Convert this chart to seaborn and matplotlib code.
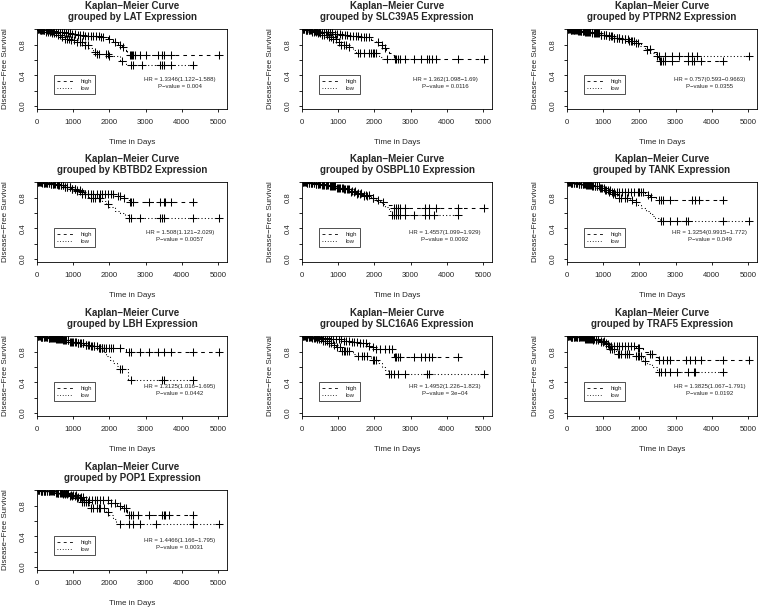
import numpy as np
import matplotlib
matplotlib.use("Agg")
import matplotlib.pyplot as plt
from matplotlib.lines import Line2D
import seaborn as sns

genes = ["LAT", "SLC39A5", "PTPRN2", "KBTBD2", "OSBPL10",
         "TANK", "LBH", "SLC16A6", "TRAF5", "POP1"]
hr_labels = ["HR = 1.3346(1.122\u22121.588)", "HR = 1.362(1.098\u22121.69)",
             "HR = 0.757(0.593\u22120.9663)", "HR = 1.508(1.121\u22122.029)",
             "HR = 1.4557(1.099\u22121.929)", "HR = 1.3254(0.9915\u22121.772)",
             "HR = 1.3125(1.016\u22121.695)", "HR = 1.4952(1.226\u22121.823)",
             "HR = 1.3825(1.067\u22121.791)", "HR = 1.4466(1.166\u22121.795)"]
p_labels = ["P\u2212value = 0.004", "P\u2212value = 0.0116", "P\u2212value = 0.0355",
            "P\u2212value = 0.0057", "P\u2212value = 0.0092", "P\u2212value = 0.049",
            "P\u2212value = 0.0442", "P\u2212value = 3e\u221204", "P\u2212value = 0.0192",
            "P\u2212value = 0.0031"]

# event times / survival after each event (high expression group)
high_t = {
    "LAT": [80, 200, 350, 500, 650, 800, 950, 1100, 1300, 1500, 1750, 1950, 2100, 2250, 2350, 2450, 2500],
    "SLC39A5": [100, 250, 450, 650, 850, 1050, 1300, 1600, 1900, 2050, 2150, 2250, 2320, 2400, 2480, 2540],
    "PTPRN2": [100, 300, 500, 700, 900, 1100, 1300, 1500, 1700, 1900, 2050, 2200, 2350, 2480, 2550],
    "KBTBD2": [150, 350, 550, 750, 950, 1100, 1200, 1300, 2200, 2350, 2450, 2560],
    "OSBPL10": [150, 350, 550, 750, 950, 1150, 1350, 1500, 1700, 1900, 2050, 2200, 2350, 2480],
    "TANK": [100, 300, 500, 700, 900, 1050, 1150, 2150, 2300, 2450, 2530],
    "LBH": [100, 300, 500, 700, 900, 1100, 1300, 1500, 1650, 2450],
    "SLC16A6": [100, 300, 500, 700, 900, 1100, 1300, 1600, 1800, 1900, 2000, 2550],
    "TRAF5": [100, 300, 500, 700, 900, 1050, 1150, 1900, 2100, 2250, 2400, 2510],
    "POP1": [100, 300, 500, 700, 900, 1100, 1300, 2000, 2200, 2350, 2500],
}
high_s = {
    "LAT": [0.995, 0.99, 0.98, 0.97, 0.96, 0.95, 0.94, 0.93, 0.92, 0.91, 0.90, 0.87, 0.83, 0.80, 0.77, 0.72, 0.66],
    "SLC39A5": [0.99, 0.98, 0.97, 0.96, 0.94, 0.93, 0.92, 0.90, 0.86, 0.83, 0.79, 0.76, 0.73, 0.69, 0.66, 0.61],
    "PTPRN2": [0.99, 0.98, 0.96, 0.95, 0.93, 0.91, 0.89, 0.87, 0.85, 0.82, 0.78, 0.74, 0.70, 0.64, 0.59],
    "KBTBD2": [0.99, 0.98, 0.96, 0.94, 0.92, 0.90, 0.88, 0.85, 0.82, 0.79, 0.77, 0.74],
    "OSBPL10": [0.99, 0.98, 0.97, 0.95, 0.93, 0.91, 0.89, 0.86, 0.83, 0.80, 0.77, 0.74, 0.71, 0.67],
    "TANK": [0.995, 0.98, 0.97, 0.95, 0.93, 0.90, 0.87, 0.84, 0.81, 0.79, 0.77],
    "LBH": [0.995, 0.98, 0.97, 0.95, 0.93, 0.91, 0.89, 0.87, 0.85, 0.80],
    "SLC16A6": [0.995, 0.99, 0.98, 0.97, 0.96, 0.94, 0.93, 0.91, 0.88, 0.86, 0.84, 0.73],
    "TRAF5": [0.995, 0.99, 0.97, 0.96, 0.94, 0.91, 0.88, 0.85, 0.80, 0.77, 0.73, 0.69],
    "POP1": [0.995, 0.99, 0.97, 0.96, 0.94, 0.92, 0.88, 0.84, 0.80, 0.77, 0.68],
}
high_cens = {
    "LAT": [20, 50, 80, 120, 160, 200, 250, 290, 340, 380, 430, 480, 530, 580, 640, 690, 750, 800, 860, 920, 980,
            1050, 1120, 1190, 1260, 1330, 1400, 1480, 1560, 1640, 1700, 1760, 1820, 2000, 2150, 2300, 2380,
            2560, 2590, 2620, 2660, 2720, 2850, 3000, 3350, 3450, 3500, 3700, 5030],
    "SLC39A5": [30, 60, 100, 140, 180, 230, 270, 320, 370, 410, 460, 510, 560, 610, 670, 720, 780, 840, 900, 970,
                1040, 1110, 1180, 1250, 1330, 1400, 1480, 1550, 1630, 1700, 1780, 1850, 2100, 2200, 2300,
                2560, 2600, 2650, 2700, 2850, 3100, 3300, 3450, 3500, 3600, 3700, 4300, 5030],
    "PTPRN2": [20, 60, 100, 140, 190, 230, 280, 330, 380, 430, 480, 530, 590, 640, 700, 760, 820, 880, 950, 1020,
               1090, 1160, 1230, 1300, 1380, 1450, 1530, 1600, 1680, 1760, 1850, 1950, 2300,
               2560, 2600, 2650, 2700, 2900, 3350, 3450, 3500, 3700, 4300],
    "KBTBD2": [30, 70, 110, 150, 200, 240, 290, 340, 390, 440, 490, 540, 600, 650, 710, 770, 830, 900, 970, 1040,
               1110, 1180, 1250, 1320, 1400, 1480, 1560, 1650, 1730, 1800, 1880, 1950, 2050, 2100,
               2250, 2300, 2400, 2580, 2600, 2650, 3100, 3400, 3500, 3550, 3700, 4300],
    "OSBPL10": [20, 60, 100, 150, 190, 240, 280, 330, 380, 430, 480, 540, 590, 650, 700, 760, 830, 890, 960, 1030,
                1100, 1170, 1240, 1310, 1390, 1460, 1540, 1620, 1700, 1780, 1850, 1950, 2100, 2250,
                2550, 2600, 2650, 2700, 2850, 3400, 3500, 3700, 4300, 5030],
    "TANK": [30, 70, 110, 150, 200, 240, 290, 330, 380, 430, 480, 530, 590, 640, 700, 760, 820, 890, 950, 1020,
             1090, 1160, 1230, 1300, 1380, 1450, 1530, 1600, 1680, 1760, 1850, 1950, 2000, 2050, 2100,
             2250, 2330, 2550, 2600, 2650, 2850, 3450, 3550, 3650, 4300],
    "LBH": [20, 60, 100, 140, 180, 230, 270, 320, 370, 420, 470, 520, 570, 630, 680, 740, 800, 860, 930, 1000,
            1070, 1140, 1210, 1280, 1360, 1430, 1510, 1580, 1700, 1750, 1800, 1850, 1900, 2000, 2050, 2100,
            2300, 2550, 2600, 2850, 3100, 3350, 3500, 3700, 4300, 5030],
    "SLC16A6": [30, 70, 110, 150, 190, 240, 280, 330, 380, 430, 480, 530, 580, 640, 690, 750, 810, 870, 940, 1010,
                1080, 1150, 1220, 1290, 1370, 1440, 1520, 1600, 1680, 1760, 1850, 1950, 2050, 2150, 2300, 2400,
                2500, 2580, 2600, 2650, 2700, 3100, 3300, 3400, 3500, 3600, 4300],
    "TRAF5": [20, 60, 100, 140, 190, 230, 280, 320, 370, 420, 470, 520, 580, 630, 690, 750, 810, 870, 940, 1010,
              1080, 1150, 1220, 1290, 1370, 1440, 1520, 1600, 1680, 1760, 1850, 1950, 2000, 2300, 2350,
              2550, 2650, 2750, 2850, 3300, 3400, 3550, 3700, 4300, 5030],
    "POP1": [30, 60, 100, 140, 190, 230, 280, 320, 370, 420, 470, 520, 580, 630, 690, 740, 800, 870, 930, 1000,
             1070, 1140, 1210, 1280, 1360, 1430, 1510, 1590, 1670, 1750, 1830, 1950, 2050, 2150, 2300, 2400, 2450,
             2550, 2600, 2650, 2800, 3100, 3450, 3500, 3550, 3650, 4300],
}

# low expression group
low_t = {
    "LAT": [100, 250, 400, 550, 650, 750, 900, 1100, 1300, 1420, 1550, 1650, 2000, 2300, 2450],
    "SLC39A5": [100, 250, 400, 550, 700, 850, 950, 1050, 1300, 1400, 1500, 2120, 2200],
    "PTPRN2": [100, 300, 500, 700, 900, 1100, 1300, 1500, 1700, 1850, 2000, 2150, 2300, 2450],
    "KBTBD2": [150, 350, 550, 750, 950, 1100, 1250, 1450, 1800, 1900, 2000, 2150, 2300, 2420, 2520],
    "OSBPL10": [150, 350, 550, 750, 950, 1150, 1350, 1500, 1700, 1900, 2050, 2200, 2300, 2400, 2480],
    "TANK": [100, 300, 500, 700, 900, 1050, 1200, 1400, 1750, 1850, 1950, 2050, 2180, 2280, 2370, 2430, 2560],
    "LBH": [100, 300, 500, 700, 900, 1100, 1300, 1500, 1700, 1820, 1920, 2020, 2110, 2200, 2280, 2520],
    "SLC16A6": [100, 250, 400, 550, 700, 850, 950, 1050, 1400, 1500, 1900, 2100, 2200, 2300, 2370],
    "TRAF5": [100, 300, 500, 700, 900, 1050, 1150, 1350, 1850, 2100, 2200, 2350, 2500],
    "POP1": [100, 300, 500, 700, 900, 1100, 1250, 1450, 1900, 2000, 2100, 2180],
}
low_s = {
    "LAT": [0.99, 0.97, 0.95, 0.93, 0.90, 0.88, 0.86, 0.83, 0.80, 0.76, 0.71, 0.68, 0.65, 0.59, 0.53],
    "SLC39A5": [0.99, 0.97, 0.95, 0.93, 0.90, 0.87, 0.84, 0.80, 0.77, 0.73, 0.69, 0.64, 0.61],
    "PTPRN2": [0.99, 0.98, 0.97, 0.95, 0.93, 0.91, 0.89, 0.88, 0.85, 0.82, 0.78, 0.73, 0.69, 0.655],
    "KBTBD2": [0.99, 0.98, 0.96, 0.94, 0.92, 0.89, 0.85, 0.80, 0.76, 0.72, 0.68, 0.63, 0.60, 0.58, 0.53],
    "OSBPL10": [0.99, 0.98, 0.96, 0.95, 0.93, 0.91, 0.88, 0.85, 0.82, 0.79, 0.76, 0.72, 0.68, 0.63, 0.58],
    "TANK": [0.995, 0.98, 0.97, 0.95, 0.93, 0.90, 0.85, 0.80, 0.77, 0.74, 0.71, 0.67, 0.63, 0.59, 0.56, 0.53, 0.49],
    "LBH": [0.995, 0.98, 0.97, 0.95, 0.93, 0.91, 0.89, 0.87, 0.85, 0.80, 0.74, 0.69, 0.65, 0.61, 0.57, 0.43],
    "SLC16A6": [0.99, 0.98, 0.96, 0.94, 0.92, 0.89, 0.86, 0.81, 0.77, 0.74, 0.69, 0.655, 0.60, 0.56, 0.515],
    "TRAF5": [0.995, 0.99, 0.97, 0.95, 0.93, 0.90, 0.84, 0.77, 0.74, 0.68, 0.64, 0.60, 0.53],
    "POP1": [0.995, 0.99, 0.97, 0.95, 0.93, 0.90, 0.85, 0.77, 0.72, 0.68, 0.63, 0.56],
}
low_cens = {
    "LAT": [30, 70, 110, 150, 200, 250, 300, 350, 410, 460, 520, 580, 640, 700, 760, 820, 880, 950, 1020, 1100,
            1180, 1250, 1330, 1400, 1600, 1650, 1700, 1900, 1950, 2000, 2350,
            2600, 2650, 2900, 3400, 3450, 3500, 3700, 4300],
    "SLC39A5": [20, 60, 100, 150, 190, 240, 290, 340, 390, 450, 500, 560, 620, 680, 740, 800, 870, 940, 1010, 1080,
                1150, 1220, 1300, 1550, 1600, 1700, 1850, 1900, 1950, 2000, 2050, 2350],
    "PTPRN2": [30, 70, 110, 160, 200, 250, 300, 350, 400, 450, 510, 560, 620, 680, 740, 800, 870, 940, 1010, 1080,
               1150, 1220, 1300, 1370, 1450, 1520, 1600, 1700, 1800, 1900, 2200,
               2500, 2550, 2700, 2900, 3100, 3350, 3450, 3600, 5030],
    "KBTBD2": [20, 60, 100, 140, 190, 230, 280, 330, 380, 430, 480, 540, 590, 650, 710, 770, 840, 900, 970, 1040,
               1110, 1180, 1250, 1330, 1400, 1500, 1550, 1600, 1700, 1750, 1950,
               2550, 2600, 2850, 3400, 3450, 3500, 4300, 5030],
    "OSBPL10": [30, 70, 110, 150, 200, 240, 290, 340, 390, 440, 500, 550, 610, 670, 730, 790, 860, 920, 990, 1060,
                1130, 1200, 1280, 1350, 1430, 1510, 1600, 1700, 1800, 1950,
                2500, 2550, 2600, 2650, 2700, 2850, 3100, 3400, 3500, 3650, 4300],
    "TANK": [20, 60, 100, 150, 190, 240, 280, 330, 380, 430, 490, 540, 600, 650, 710, 780, 840, 910, 980, 1050,
             1120, 1190, 1260, 1330, 1450, 1500, 1600, 1650, 1800, 1900,
             2600, 2650, 2850, 3050, 3300, 3350, 4300, 5030],
    "LBH": [30, 70, 110, 150, 200, 240, 290, 340, 390, 440, 490, 550, 600, 660, 720, 780, 850, 910, 980, 1050,
            1120, 1200, 1270, 1350, 1420, 1500, 1580, 1650, 1750, 1800, 2300, 2350, 2600, 3450, 3500, 4300],
    "SLC16A6": [20, 60, 100, 140, 180, 230, 270, 320, 370, 420, 470, 520, 580, 630, 690, 750, 810, 880, 960, 1040,
                1100, 1150, 1200, 1250, 1300, 1550, 1650, 1700, 1800, 1950, 2000, 2050,
                2400, 2450, 2550, 2650, 2850, 3450, 3500, 5030],
    "TRAF5": [30, 70, 110, 150, 200, 240, 290, 340, 390, 440, 500, 550, 610, 670, 730, 790, 860, 930, 1000, 1070,
              1140, 1200, 1250, 1300, 1400, 1450, 1500, 1600, 1650, 1700, 1900, 1950, 2000, 2050, 2150,
              2550, 2600, 2700, 2850, 3050, 3350, 3500, 3550, 4300],
    "POP1": [20, 60, 100, 140, 190, 230, 280, 330, 380, 430, 480, 540, 590, 650, 710, 770, 840, 900, 970, 1040,
             1110, 1180, 1250, 1300, 1350, 1400, 1500, 1550, 1650, 1700, 1750, 1850, 1950,
             2300, 2550, 2650, 2850, 3300, 4300, 5030],
}

sns.set_style("ticks")
plt.rcParams["font.family"] = ["Liberation Sans", "DejaVu Sans"]
plt.rcParams["axes.linewidth"] = 0.6

W, H = 758, 609
fig = plt.figure(figsize=(W / 100, H / 100), dpi=100)

col_left = [37, 302, 567]
row_top = [29, 182, 336, 490]
box_w, box_h = 190, 80


def km_steps(times, surv, end):
    t = np.r_[0, times, end]
    s = np.r_[1.0, surv, surv[-1]]
    return t, s


def surv_at(times, surv, x):
    t = np.r_[0, times]
    s = np.r_[1.0, surv]
    return s[np.searchsorted(t, x, side="right") - 1]


for i, g in enumerate(genes):
    r, c = divmod(i, 3)
    ax = fig.add_axes([col_left[c] / W, 1 - (row_top[r] + box_h) / H, box_w / W, box_h / H])

    groups = [(high_t[g], high_s[g], high_cens[g], (3.5, 4)),
              (low_t[g], low_s[g], low_cens[g], (1, 2.2))]
    for times, surv, cens, dash in groups:
        end = max(max(cens), times[-1])
        t, s = km_steps(times, surv, end)
        sns.lineplot(x=t, y=s, drawstyle="steps-post", estimator=None, sort=False,
                     color="black", linewidth=0.75, dashes=False, ax=ax)
        ax.lines[-1].set_dashes(dash)
        sns.scatterplot(x=cens, y=surv_at(times, surv, np.array(cens)), marker="+",
                        s=32, linewidth=0.75, color="black", ax=ax, legend=False)

    ax.set_xlim(0, 5250)
    ax.set_ylim(-0.04, 1.005)
    ax.set_xticks(range(0, 5001, 1000))
    ax.set_yticks([0, 0.2, 0.4, 0.6, 0.8, 1.0])
    ax.set_yticklabels(["0.0", "", "0.4", "", "0.8", ""], rotation=90, va="center")
    ax.tick_params(length=2.2, width=0.6, labelsize=5.6, pad=5, color="black")
    for sp in ax.spines.values():
        sp.set_visible(True)
        sp.set_color("black")

    ax.set_title(f"Kaplan\u2212Meier Curve\ngrouped by {g} Expression",
                 fontsize=7, fontweight="bold", pad=6.5, linespacing=1.1)
    ax.set_xlabel("Time in Days", fontsize=5.8)
    ax.xaxis.set_label_coords(0.5, -0.37)
    ax.set_ylabel("Disease\u2212Free Survival", fontsize=5.8)
    ax.yaxis.set_label_coords(-0.145, 0.5)

    handles = [Line2D([], [], color="black", lw=0.6, dashes=(3.5, 4)),
               Line2D([], [], color="black", lw=0.6, dashes=(1, 2.2))]
    leg = ax.legend(handles, ["high", "low"], loc="upper left", bbox_to_anchor=(0.089, 0.425),
                    fontsize=4.3, frameon=True, fancybox=False, handlelength=2.6,
                    borderpad=0.6, labelspacing=0.3, handletextpad=1.2, borderaxespad=0)
    leg.get_frame().set_edgecolor("black")
    leg.get_frame().set_linewidth(0.6)

    ax.text(0.752, 0.364, hr_labels[i], transform=ax.transAxes, ha="center", va="center", fontsize=4.3)
    ax.text(0.752, 0.277, p_labels[i], transform=ax.transAxes, ha="center", va="center", fontsize=4.3)

fig.savefig("out.png", dpi=100)
